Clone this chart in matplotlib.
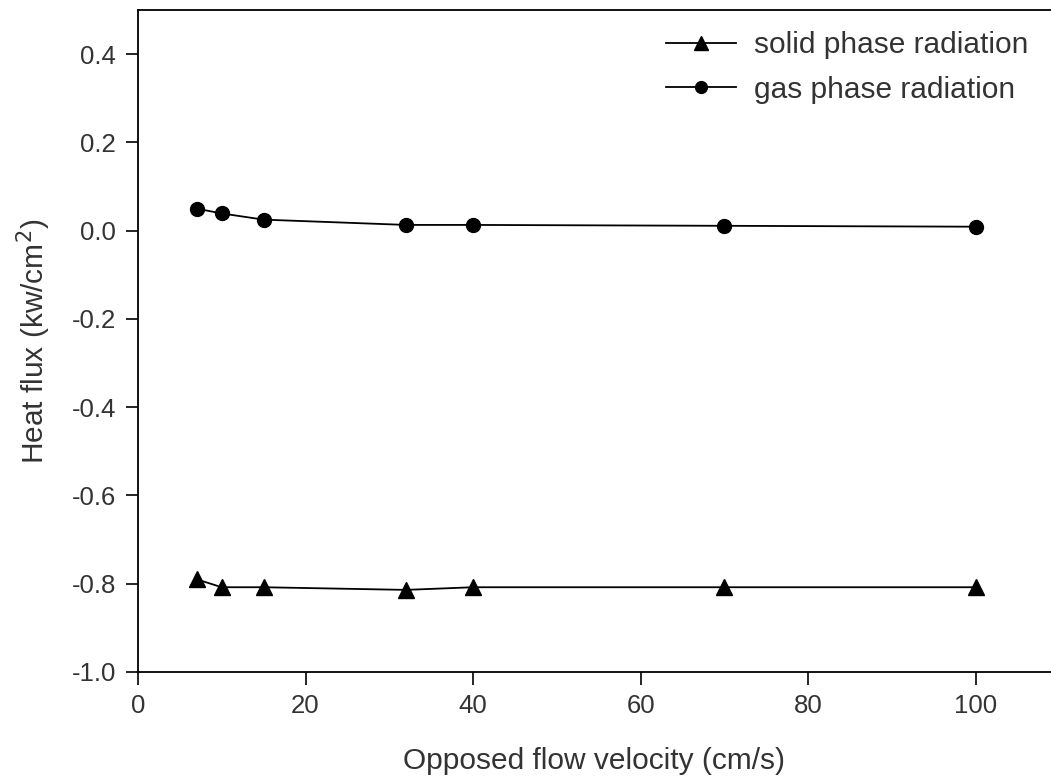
import matplotlib
matplotlib.use("Agg")
from matplotlib import pyplot as plt

# opposed flow velocity (cm/s)
velocity = [7, 10, 15, 32, 40, 70, 100]
# heat flux (kw/cm^2)
solid_rad = [-0.790, -0.808, -0.808, -0.814, -0.808, -0.808, -0.808]
gas_rad = [0.050, 0.039, 0.025, 0.013, 0.013, 0.011, 0.009]

plt.rcParams['font.family'] = ['Liberation Sans', 'DejaVu Sans']
txt = '#333333'

fig = plt.figure(figsize=(10.51, 7.82), dpi=100)
ax = fig.add_axes([0.1313, 0.1407, 0.8687, 0.8465])

ax.plot(velocity, solid_rad, color='black', lw=1.3, marker='^', ms=12,
        label='solid phase radiation')
ax.plot(velocity, gas_rad, color='black', lw=1.3, marker='o', ms=10,
        label='gas phase radiation')

ax.set_xlim(0, 109)
ax.set_ylim(-1.0, 0.5)
ax.set_xticks([0, 20, 40, 60, 80, 100])
ax.set_yticks([-1.0, -0.8, -0.6, -0.4, -0.2, 0.0, 0.2, 0.4])
ax.set_yticklabels(['-1.0', '-0.8', '-0.6', '-0.4', '-0.2', '0.0', '0.2', '0.4'])
ax.tick_params(direction='out', length=9, width=1.2, labelsize=18.5,
               labelcolor=txt, pad=7)
ax.spines['right'].set_visible(False)
for s in ['left', 'bottom', 'top']:
    ax.spines[s].set_linewidth(1.3)

ax.set_xlabel('Opposed flow velocity (cm/s)', fontsize=21.5, color=txt, labelpad=21)
ax.set_ylabel('Heat flux (kw/cm$^2$)', fontsize=21.5, color=txt, labelpad=13)

ax.legend(loc='upper right', bbox_to_anchor=(1040 / 1051, 0.975),
          bbox_transform=fig.transFigure, frameon=False,
          fontsize=21.5, labelcolor=txt, handlelength=2.35, handletextpad=0.6,
          markerscale=0.85, labelspacing=0.55, borderaxespad=0)

fig.savefig('out.png', dpi=100)
